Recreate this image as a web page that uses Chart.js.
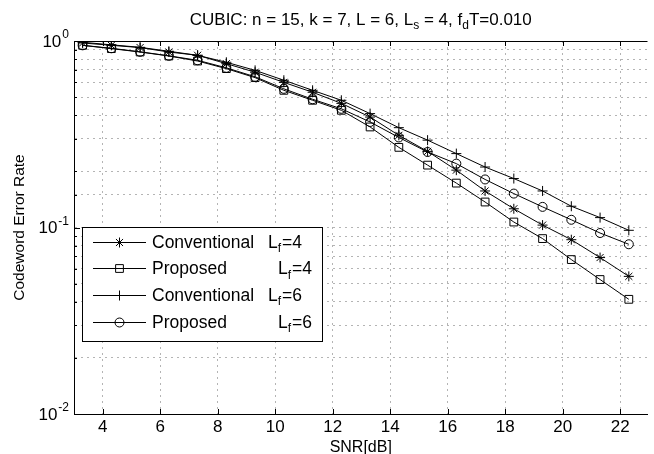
<!DOCTYPE html>
<html>
<head>
<meta charset="utf-8">
<script src="https://cdn.jsdelivr.net/npm/chart.js@4/dist/chart.umd.min.js"></script>
<style>
  html, body { margin: 0; padding: 0; background: #fff; }
  #wrap { width: 654px; height: 454px; }
</style>
</head>
<body>
<div id="wrap"><canvas id="chart" width="654" height="454"></canvas></div>
<script>
// SNR points [dB]
const snr = [3.3, 4.3, 5.3, 6.3, 7.3, 8.3, 9.3, 10.3, 11.3, 12.3,
             13.3, 14.3, 15.3, 16.3, 17.3, 18.3, 19.3, 20.3, 21.3, 22.3];

// codeword error rate
const convLf4 = [0.976, 0.948, 0.922, 0.873, 0.838, 0.756, 0.680, 0.600, 0.531, 0.463,
                 0.391, 0.312, 0.256, 0.203, 0.157, 0.126, 0.103, 0.086, 0.069, 0.0547];
const propLf4 = [0.948, 0.910, 0.873, 0.831, 0.781, 0.711, 0.636, 0.544, 0.481, 0.425,
                 0.346, 0.269, 0.216, 0.173, 0.137, 0.107, 0.0872, 0.0673, 0.0526, 0.0412];
const convLf6 = [0.984, 0.954, 0.925, 0.881, 0.838, 0.769, 0.696, 0.616, 0.544, 0.481,
                 0.408, 0.343, 0.294, 0.249, 0.211, 0.183, 0.157, 0.130, 0.113, 0.0966];
const propLf6 = [0.948, 0.914, 0.875, 0.833, 0.788, 0.718, 0.643, 0.554, 0.487, 0.433,
                 0.368, 0.304, 0.254, 0.220, 0.181, 0.152, 0.129, 0.110, 0.0934, 0.0813];

const xTicks = [4, 6, 8, 10, 12, 14, 16, 18, 20, 22];
const yMajor = [0.01, 0.1, 1];
const yExponents = ['-2', '-1', '0'];

const legendNames = ['Conventional', 'Proposed', 'Conventional', 'Proposed'];
const legendLf = ['4', '4', '6', '6'];

const FONT = "'Liberation Sans', Arial, Helvetica, sans-serif";

function pts(ys) {
  return snr.map((x, i) => ({ x, y: ys[i] }));
}

function series(values, style, radius) {
  return {
    data: pts(values),
    borderColor: '#000',
    borderWidth: 1,
    pointStyle: style,
    pointRadius: radius,
    pointBorderColor: '#000',
    pointBackgroundColor: 'rgba(0,0,0,0)',
    pointBorderWidth: 1,
    fill: false,
    tension: 0
  };
}

const datasets = [
  series(convLf4, 'star', 5),
  series(propLf4, 'rect', 5.5),
  series(convLf6, 'cross', 5),
  series(propLf6, 'circle', 4.5)
];

const crisp = v => Math.round(v) + 0.5;

// box top edge, inward ticks, y tick labels
const framePlugin = {
  id: 'frame',
  afterDraw(chart) {
    const { ctx, chartArea: a, scales: { x, y } } = chart;
    ctx.save();
    ctx.strokeStyle = '#000';
    ctx.lineWidth = 1;
    ctx.beginPath();
    ctx.moveTo(a.left, crisp(a.top));
    ctx.lineTo(a.right, crisp(a.top));
    xTicks.forEach(v => {
      const px = crisp(x.getPixelForValue(v));
      ctx.moveTo(px, a.bottom); ctx.lineTo(px, a.bottom - 5);
      ctx.moveTo(px, a.top); ctx.lineTo(px, a.top + 5);
    });
    y.ticks.forEach(t => {
      const py = crisp(y.getPixelForValue(t.value));
      const len = yMajor.includes(t.value) ? 6 : 3;
      ctx.moveTo(a.left, py); ctx.lineTo(a.left + len, py);
    });
    ctx.stroke();

    // 10^k labels
    ctx.fillStyle = '#000';
    ctx.textBaseline = 'middle';
    yMajor.forEach((v, i) => {
      const py = y.getPixelForValue(v);
      ctx.font = '17px ' + FONT;
      const wBase = ctx.measureText('10').width;
      ctx.font = '12px ' + FONT;
      const wExp = ctx.measureText(yExponents[i]).width;
      const x0 = a.left - 6 - wBase - wExp;
      ctx.font = '17px ' + FONT;
      ctx.fillText('10', x0, py + 1);
      ctx.font = '12px ' + FONT;
      ctx.fillText(yExponents[i], x0 + wBase + 1, py - 6);
    });
    ctx.restore();
  }
};

// title with subscripts
const titlePlugin = {
  id: 'subTitle',
  afterDraw(chart) {
    const { ctx, chartArea: a } = chart;
    const parts = [
      { t: 'CUBIC: n = 15, k = 7, L = 6, L' }, { t: 's', sub: true },
      { t: ' = 4, f' }, { t: 'd', sub: true }, { t: 'T=0.010' }
    ];
    ctx.save();
    ctx.fillStyle = '#000';
    ctx.textBaseline = 'alphabetic';
    let total = 0;
    parts.forEach(p => {
      ctx.font = (p.sub ? '12px ' : '17px ') + FONT;
      p.w = ctx.measureText(p.t).width;
      total += p.w;
    });
    let cx = (a.left + a.right) / 2 - total / 2;
    parts.forEach(p => {
      ctx.font = (p.sub ? '12px ' : '17px ') + FONT;
      ctx.fillText(p.t, cx, p.sub ? 29 : 25);
      cx += p.w;
    });
    ctx.restore();
  }
};

// boxed legend
const legendPlugin = {
  id: 'boxLegend',
  afterDraw(chart) {
    const { ctx } = chart;
    const box = { l: 82, t: 227, r: 322, b: 341 };
    const rowY = [241.7, 268.3, 295, 321.7];
    ctx.save();
    ctx.fillStyle = '#fff';
    ctx.fillRect(box.l, box.t, box.r - box.l, box.b - box.t);
    ctx.strokeStyle = '#000';
    ctx.lineWidth = 1;
    ctx.strokeRect(box.l + 0.5, box.t + 0.5, box.r - box.l, box.b - box.t);
    datasets.forEach((ds, i) => {
      const yy = crisp(rowY[i]);
      ctx.strokeStyle = '#000';
      ctx.lineWidth = 1;
      ctx.beginPath();
      ctx.moveTo(93, yy); ctx.lineTo(146, yy);
      ctx.stroke();
      ctx.fillStyle = 'rgba(0,0,0,0)';
      Chart.helpers.drawPoint(ctx, {
        pointStyle: ds.pointStyle, radius: ds.pointRadius, borderWidth: 1, rotation: 0
      }, 119.5, yy);
      ctx.fillStyle = '#000';
      ctx.textBaseline = 'middle';
      ctx.font = '17.5px ' + FONT;
      ctx.fillText(legendNames[i], 152, rowY[i] + 1);
      const lx = legendNames[i] === 'Proposed' ? 278 : 268;
      ctx.fillText('L', lx, rowY[i] + 1);
      const wl = ctx.measureText('L').width;
      ctx.font = '12px ' + FONT;
      ctx.fillText('f', lx + wl, rowY[i] + 7);
      const wf = ctx.measureText('f').width;
      ctx.font = '17.5px ' + FONT;
      ctx.fillText('=' + legendLf[i], lx + wl + wf + 1, rowY[i] + 1);
    });
    ctx.restore();
  }
};

new Chart(document.getElementById('chart'), {
  type: 'line',
  data: { datasets },
  options: {
    responsive: false,
    animation: false,
    devicePixelRatio: 1,
    layout: { padding: { top: 41, left: 0, right: 0, bottom: 0 } },
    plugins: { legend: { display: false }, tooltip: { enabled: false } },
    scales: {
      x: {
        type: 'linear',
        min: 3,
        max: 22.95,
        afterBuildTicks: s => { s.ticks = xTicks.map(v => ({ value: v })); },
        afterFit: s => { s.height = 40; },
        ticks: { color: '#000', font: { family: FONT, size: 17 }, padding: 3, maxRotation: 0, autoSkip: false },
        grid: { color: '#b4b4b4', lineWidth: 1, drawTicks: false },
        border: { display: true, color: '#000', width: 1, dash: [2, 4] },
        title: { display: true, text: 'SNR[dB]', color: '#000', font: { family: FONT, size: 16 }, padding: { top: 0, bottom: -3 } }
      },
      y: {
        type: 'logarithmic',
        min: 0.01,
        max: 1,
        afterFit: s => { s.width = 74; },
        ticks: { display: false },
        grid: { color: '#b4b4b4', lineWidth: 1, drawTicks: false },
        border: { display: true, color: '#000', width: 1, dash: [2, 4] },
        title: { display: true, text: 'Codeword Error Rate', color: '#000', font: { family: FONT, size: 15.5 }, padding: { top: 10, bottom: 0 } }
      }
    }
  },
  plugins: [framePlugin, titlePlugin, legendPlugin]
});
</script>
</body>
</html>
